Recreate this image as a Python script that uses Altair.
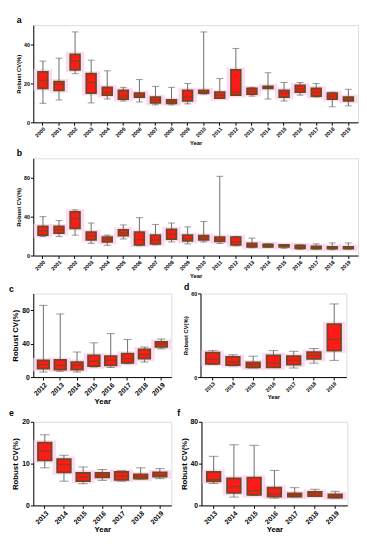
import altair as alt
import pandas as pd

# ---------------- data ----------------
years_a = [str(y) for y in range(2000, 2020)]
a_min = [9.8, 11.5, 25, 10, 12, 11, 10.5, 9, 9, 9.5, 14.5, 12.5, 14, 13.5, 12, 11, 14, 13, 8, 8.5]
a_q1 = [17.5, 16.5, 27, 15, 14, 12, 13, 10, 9.8, 11, 15, 12.5, 14, 14.5, 17.5, 13, 15.5, 13.5, 12, 11]
a_med = [21.5, 19.5, 31.5, 20.5, 15.5, 13.5, 14, 11.5, 10.5, 13, 15.5, 14, 15.5, 16, 18, 15, 17, 15.5, 13.5, 12]
a_q3 = [26, 21, 35, 25, 18, 16.5, 15, 13, 11.5, 16.5, 16.5, 15.5, 27, 17.5, 18.5, 16.5, 19, 17.5, 15, 13]
a_max = [31.5, 33, 46.5, 32, 26.5, 18, 22, 18.5, 18, 20, 46.5, 22.5, 38, 18, 25.5, 20.5, 20.5, 20, 15.5, 17]

years_b = [str(y) for y in range(2000, 2020)]
b_min = [19.5, 19.5, 21, 12.5, 10.5, 17, 10, 11, 14, 12, 14, 12.5, 10, 8, 8.5, 7.5, 6.5, 6.5, 6, 6.5]
b_q1 = [21, 23, 28, 16, 14, 20.5, 11, 12, 17, 15, 16, 14.5, 11, 9, 9, 9, 7.5, 7, 7, 7]
b_med = [25.5, 26.5, 38, 20, 16.5, 23.5, 16.5, 16, 22, 17.5, 18, 16.5, 14, 10.5, 10.5, 10, 9, 8, 8, 8]
b_q3 = [30, 30, 45, 24, 19, 26.5, 24, 21, 27, 21, 20.5, 19, 19, 12.5, 11.5, 11, 10.5, 9.5, 9, 9]
b_max = [40, 36, 47, 33.5, 21, 31.5, 39, 32, 33.5, 29.5, 35, 81.5, 19.5, 18, 12, 11.5, 11, 12, 13, 13]

years_c = [str(y) for y in range(2012, 2020)]
c_min = [6, 7, 6, 12, 11.5, 16, 18, 34]
c_q1 = [10, 9, 9, 13, 14, 17, 22, 36]
c_med = [15, 14, 14, 19, 20, 22, 27, 39.5]
c_q3 = [20, 20.5, 18, 26, 25, 28, 33, 42]
c_max = [85.8, 75.5, 30, 41, 52, 45, 36, 45.5]

years_d = [str(y) for y in range(2013, 2020)]
d_min = [9, 8, 6.5, 7, 6.5, 10, 12]
d_q1 = [9.5, 8.5, 7, 7, 9, 13, 19]
d_med = [13, 11, 9, 10, 12, 15.5, 27]
d_q3 = [17.5, 14.5, 10.5, 15.5, 15, 18, 38]
d_max = [19, 16, 15, 19, 18.5, 20.5, 52.5]

years_e = [str(y) for y in range(2013, 2020)]
e_min = [9, 5.8, 5.2, 6, 5.8, 6.3, 6.4]
e_q1 = [10.8, 7.9, 5.8, 6.7, 6.1, 6.4, 6.9]
e_med = [13, 9.8, 6.8, 7.2, 7, 6.9, 7.3]
e_q3 = [15, 11.1, 7.8, 7.8, 8, 7.4, 7.9]
e_max = [16.9, 12, 9.2, 8.6, 8.3, 9, 8.8]

years_f = [str(y) for y in range(2013, 2020)]
f_min = [21, 8, 9.5, 7, 8, 8.5, 7]
f_q1 = [23, 12, 10, 8.5, 8.5, 9, 7.5]
f_med = [25, 18, 14, 11, 10, 11, 9]
f_q3 = [32, 26, 26.5, 17, 11.5, 13, 10.5]
f_max = [47, 58, 57.5, 33.5, 17, 15.5, 13.5]

FONT = "Liberation Sans"
RED = "#ff1a1a"
BROWN = "#6e4a1c"
HALO = "#fbd3f2"


def panel(letter, years, mn, q1, md, q3, mx, ymax, ystep, w, h, box, small, dx):
    df = pd.DataFrame({"year": years, "mn": mn, "q1": q1, "md": md, "q3": q3, "mx": mx})
    lab = 5.5 if small else 7
    tit = 6 if small else 8
    x = alt.X("year:N", sort=years, scale=alt.Scale(paddingInner=0.3, paddingOuter=0.25),
              axis=alt.Axis(title="Year", labelAngle=-45, labelAlign="right", labelBaseline="top",
                            labelFontSize=lab, labelFont=FONT, labelFontWeight="bold",
                            titleFontSize=tit, titleFont=FONT, titleFontWeight="bold",
                            titlePadding=1, labelPadding=1, tickSize=3, labelOverlap=False,
                            domainColor="black", tickColor="black", labelColor="black"))
    yscale = alt.Scale(domain=[0, ymax], nice=False)
    yaxis = alt.Axis(title="Robust CV(%)", values=list(range(0, ymax + 1, ystep)), grid=False,
                     labelFontSize=lab, labelFont=FONT, labelFontWeight="bold",
                     titleFontSize=tit, titleFont=FONT, titleFontWeight="bold",
                     titlePadding=2, labelPadding=1, tickSize=3, labelOverlap=False,
                     labelFlush=False,
                     domainColor="black", tickColor="black", labelColor="black")
    base = alt.Chart(df).encode(x=x)
    halo = base.mark_bar(size=box + 4, color=HALO, stroke=HALO, strokeWidth=5, opacity=0.8).encode(
        y=alt.Y("q1:Q", scale=yscale, axis=yaxis), y2="q3:Q")
    whisk = base.mark_rule(color="#6a6a6a", strokeWidth=1).encode(
        y=alt.Y("mn:Q", scale=yscale), y2="mx:Q")
    cap_lo = base.mark_tick(color="#6a6a6a", thickness=1, size=box * 0.7).encode(
        y=alt.Y("mn:Q", scale=yscale))
    cap_hi = base.mark_tick(color="#6a6a6a", thickness=1, size=box * 0.7).encode(
        y=alt.Y("mx:Q", scale=yscale))
    boxes = base.mark_bar(size=box, color=RED, stroke=BROWN, strokeWidth=1.8).encode(
        y=alt.Y("q1:Q", scale=yscale), y2="q3:Q")
    med = base.mark_tick(color=BROWN, thickness=1.5, size=box).encode(
        y=alt.Y("md:Q", scale=yscale))
    return alt.layer(halo, whisk, cap_lo, cap_hi, boxes, med).properties(
        width=w, height=h,
        title=alt.TitleParams(letter, anchor="start", frame="group", fontSize=9, font=FONT,
                              fontWeight="bold", dx=dx, offset=0, color="black"))


pa = panel("a", years_a, a_min, a_q1, a_med, a_q3, a_max, 50, 10, 334, 100, 10, True, -17)
pb = panel("b", years_b, b_min, b_q1, b_med, b_q3, b_max, 100, 20, 334, 100, 10, True, -17)
pc = panel("c", years_c, c_min, c_q1, c_med, c_q3, c_max, 100, 20, 142, 86, 12, False, -25)
pd_ = panel("d", years_d, d_min, d_q1, d_med, d_q3, d_max, 60, 20, 150, 86, 14, True, -17)
pe = panel("e", years_e, e_min, e_q1, e_med, e_q3, e_max, 20, 5, 142, 86, 14, False, -25)
pf = panel("f", years_f, f_min, f_q1, f_med, f_q3, f_max, 80, 20, 150, 86, 14, False, -25)

chart = alt.vconcat(
    pa, pb,
    alt.hconcat(pc, pd_, spacing=10),
    alt.hconcat(pe, pf, spacing=4),
    spacing=2,
).properties(padding=0).configure_view(stroke=None).configure(background="white")

chart.save("out.html", embed_options={"renderer": "svg", "actions": False})
